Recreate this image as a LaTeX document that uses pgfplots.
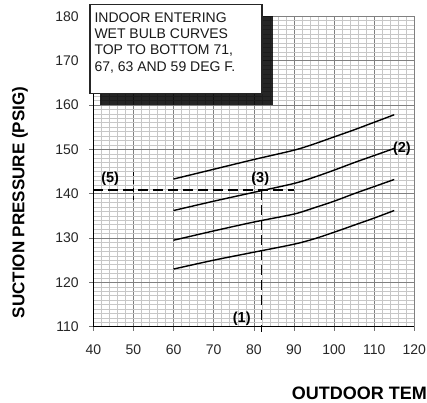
\documentclass[border=0pt]{standalone}
\usepackage{fontspec}
\setmainfont{Liberation Sans}
\usepackage{pgfplots}
\pgfplotsset{compat=1.18}
\begin{document}
\begin{tikzpicture}[x=1pt,y=1pt]
\useasboundingbox (0,0) rectangle (427,402);
\begin{axis}[
  at={(93.3pt,75.3pt)}, anchor=south west,
  scale only axis, width=321pt, height=310.4pt,
  xmin=40, xmax=120, ymin=110, ymax=180,
  xtick={40,50,...,120}, ytick={110,120,...,180},
  minor x tick num=4, minor y tick num=9,
  grid=both,
  major grid style={draw=black!50, line width=0.6pt},
  minor grid style={draw=black!22, line width=0.5pt},
  axis x line*=bottom, axis y line*=left,
  axis line style={black, line width=1.3pt},
  tick align=outside, major tick length=4pt, minor tick length=0pt,
  tick style={black!55, line width=0.6pt},
  ticklabel style={font=\fontsize{14}{16}\selectfont, text=black!85},
  /pgf/number format/assume math mode=true,
  yticklabel style={xshift=-7pt},
  xticklabel style={yshift=-10pt},
  clip=false,
]
% shadow and text box
\fill[black, opacity=0.85] (axis cs:41.7,160) rectangle (axis cs:84.7,180);
\filldraw[fill=white, draw=black!85, line width=1.5pt] (axis cs:39.2,162.6) rectangle (axis cs:82.1,182.7);
\node[anchor=base west, inner sep=0, font=\fontsize{14}{16}\selectfont, text=black!90] at (axis cs:40.25,178.55) {INDOOR ENTERING};
\node[anchor=base west, inner sep=0, font=\fontsize{14}{16}\selectfont, text=black!90] at (axis cs:40.25,174.92) {WET BULB CURVES};
\node[anchor=base west, inner sep=0, font=\fontsize{14}{16}\selectfont, text=black!90] at (axis cs:40.25,171.29) {TOP TO BOTTOM 71,};
\node[anchor=base west, inner sep=0, font=\fontsize{14}{16}\selectfont, text=black!90] at (axis cs:40.25,167.66) {67, 63 AND 59 DEG F.};
% curves (71, 67, 63, 59)
\addplot[black, line width=1.4pt, smooth] coordinates {(60,143.3) (70,145.5) (80,147.7) (90,149.8) (95,151.2) (100,152.8) (105,154.4) (110,156.1) (115,157.8)};
\addplot[black, line width=1.4pt, smooth] coordinates {(60,136.2) (70,138.3) (80,140.3) (90,142.3) (95,143.7) (100,145.3) (105,147.0) (110,148.6) (115,150.2)};
\addplot[black, line width=1.4pt, smooth] coordinates {(60,129.5) (70,131.6) (80,133.6) (90,135.4) (95,136.8) (100,138.3) (105,140.0) (110,141.6) (115,143.2)};
\addplot[black, line width=1.4pt, smooth] coordinates {(60,123.0) (70,125.0) (80,126.8) (90,128.6) (95,129.8) (100,131.3) (105,132.9) (110,134.5) (115,136.2)};
% dashed construction lines
\addplot[black, line width=1.3pt, dash pattern=on 10pt off 5pt] coordinates {(40,140.8) (90,140.8)};
\addplot[black, line width=1.3pt, dash pattern=on 10pt off 5pt] coordinates {(82,140.8) (82,108.8)};
\addplot[black, line width=1pt, dash pattern=on 4pt off 4pt] coordinates {(50,145) (50,138.3)};
% labels
\node[font=\bfseries\fontsize{14.5}{16}\selectfont] at (axis cs:44.2,143.3) {(5)};
\node[font=\bfseries\fontsize{14.5}{16}\selectfont] at (axis cs:81.6,143.3) {(3)};
\node[font=\bfseries\fontsize{14.5}{16}\selectfont] at (axis cs:116.9,150.1) {(2)};
\node[font=\bfseries\fontsize{14.5}{16}\selectfont] at (axis cs:77.0,111.7) {(1)};
\end{axis}
\node[rotate=90, font=\bfseries\fontsize{17}{20}\selectfont] at (20,199.5) {SUCTION PRESSURE (PSIG)};
\node[anchor=base west, inner sep=0, font=\bfseries\fontsize{18}{20}\selectfont] at (291.7,2.7) {OUTDOOR TEM};
\end{tikzpicture}
\end{document}
